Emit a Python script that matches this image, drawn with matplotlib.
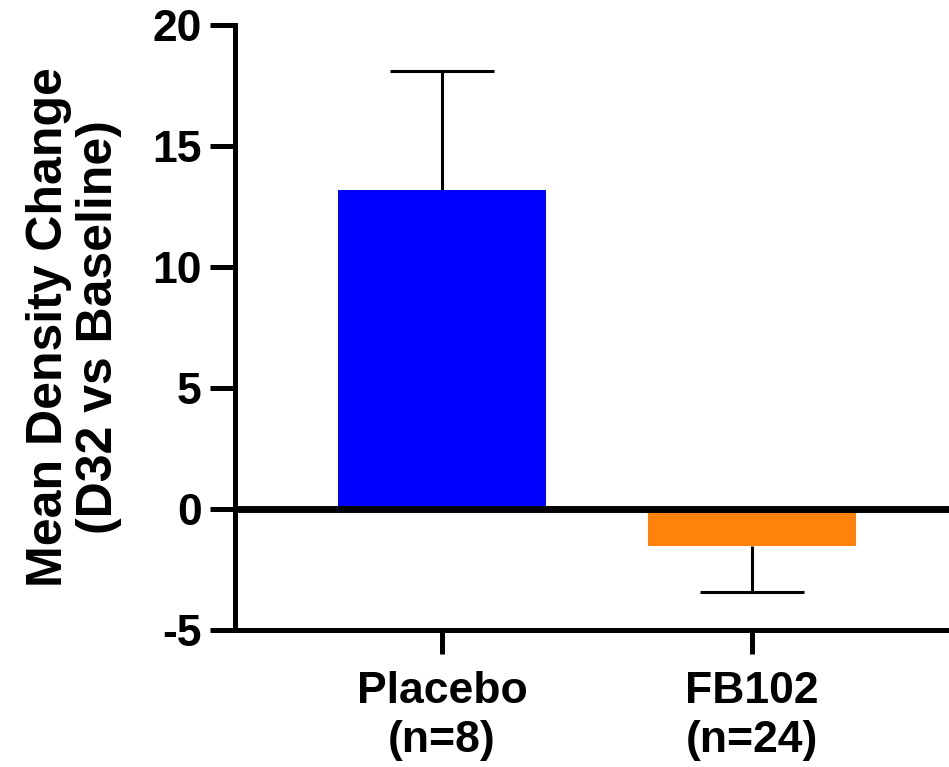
import matplotlib
matplotlib.use('Agg')
import matplotlib.pyplot as plt

# Data
groups = ['Placebo\n(n=8)', 'FB102\n(n=24)']
mean_change = [13.2, -1.5]
sem = [4.9, 1.9]
bar_colors = ['#0000FF', '#FF820A']
y_ticks = [-5, 0, 5, 10, 15, 20]

plt.rcParams['font.family'] = ['Liberation Sans', 'DejaVu Sans']
plt.rcParams['font.weight'] = 'bold'
plt.rcParams['axes.unicode_minus'] = False

fig = plt.figure(figsize=(9.49, 7.67), dpi=100)
ax = fig.add_axes([0.2476, 0.178, 0.7524, 0.789])

x = list(range(len(groups)))
ax.bar(x, mean_change, width=0.67, color=bar_colors, zorder=2)

# one-sided error bars, away from zero
cap = 0.335
for xi, m, e in zip(x, mean_change, sem):
    tip = m + e if m >= 0 else m - e
    ax.vlines(xi, m, tip, color='black', linewidth=2.2, zorder=1)
    ax.hlines(tip, xi - cap / 2, xi + cap / 2, color='black', linewidth=2.2, zorder=1)

ax.axhline(0, color='black', linewidth=5, zorder=3)

ax.set_xlim(-0.668, 1.635)
ax.set_ylim(-5, 20)
ax.set_yticks(y_ticks)
ax.set_xticks(x)
ax.set_xticklabels(groups, fontsize=32, fontweight='bold', linespacing=1.25)
ax.tick_params(axis='y', labelsize=32, length=18, width=3.6, pad=6)
ax.tick_params(axis='x', length=17, width=3.6, pad=12)

for s in ['top', 'right']:
    ax.spines[s].set_visible(False)
for s in ['left', 'bottom']:
    ax.spines[s].set_linewidth(3.6)

fig.text(0.078, 0.573, 'Mean Density Change\n(D32 vs Baseline)', rotation=90,
         ha='center', va='center', fontsize=36, fontweight='bold',
         linespacing=1.1)

fig.savefig('out.png', dpi=100)
